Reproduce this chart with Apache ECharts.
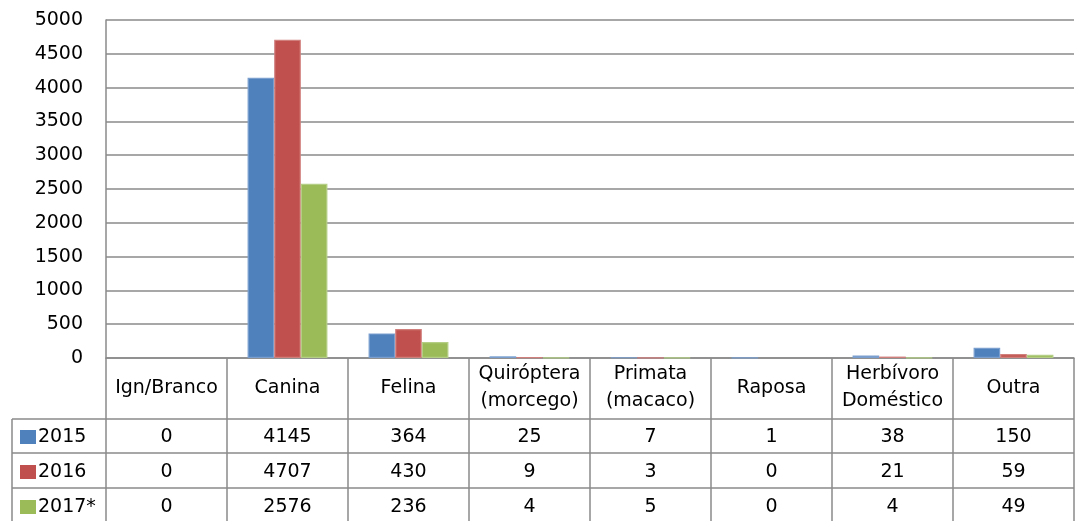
<!DOCTYPE html>
<html>
<head>
<meta charset="utf-8">
<script src="https://cdn.jsdelivr.net/npm/echarts@6/dist/echarts.min.js"></script>
<style>
  html, body { margin: 0; padding: 0; background: #fff; }
  #chart { width: 1076px; height: 521px; }
</style>
</head>
<body>
<div id="chart"></div>
<script>
// data
const categories = ["Ign/Branco", "Canina", "Felina", "Quiróptera\n(morcego)", "Primata\n(macaco)", "Raposa", "Herbívoro\nDoméstico", "Outra"];
const years = ["2015", "2016", "2017*"];
const v2015 = [0, 4145, 364, 25, 7, 1, 38, 150];
const v2016 = [0, 4707, 430, 9, 3, 0, 21, 59];
const v2017 = [0, 2576, 236, 4, 5, 0, 4, 49];
const yMax = 5000;
const yStep = 500;

const rows = [v2015, v2016, v2017];
const colors = ["#4F81BD", "#C0504D", "#9BBB59"];
const borders = ["#7A9FCF", "#D07F7D", "#B4CE85"];
const font = "DejaVu Sans";
const lineCol = "#8a8a8a";

const gridTop = 20, gridBottom = 163, gridLeft = 106, gridRight = 2;
const H = 521;
const axisY = H - gridBottom;          // 358
const rowLines = [419, 453, 488];      // table row separators
const rowCenters = [437, 472, 507];

var chart = echarts.init(document.getElementById("chart"));

// one extra x axis per table row, value shown by category index
const rowAxes = rows.map((r, k) => ({
  type: "category",
  data: categories,
  position: "bottom",
  offset: rowCenters[k] - axisY,
  axisLine: { show: false },
  axisTick: { show: false },
  splitLine: { show: false },
  axisLabel: {
    interval: 0,
    margin: 0,
    verticalAlign: "middle",
    fontFamily: font,
    fontSize: 19,
    color: "#000",
    formatter: (v, i) => String(r[i])
  }
}));

// one legend per table row
const legends = years.map((y, k) => ({
  data: [y],
  left: 20,
  top: rowCenters[k] - 10,
  padding: 0,
  itemWidth: 16,
  itemHeight: 14,
  icon: "rect",
  selectedMode: false,
  itemStyle: { borderWidth: 0 },
  textStyle: { fontFamily: font, fontSize: 19, lineHeight: 20, color: "#000", padding: [0, 0, 0, -3] }
}));

var option = {
  animation: false,
  backgroundColor: "#fff",
  grid: { left: gridLeft, right: gridRight, top: gridTop, bottom: gridBottom },
  legend: legends,
  xAxis: [{
    type: "category",
    data: categories,
    axisLine: { show: true, lineStyle: { color: lineCol, width: 1.5 } },
    axisTick: { show: false },
    axisLabel: {
      interval: 0,
      margin: 30,
      verticalAlign: "middle",
      fontFamily: font,
      fontSize: 19,
      lineHeight: 27,
      color: "#000"
    }
  }].concat(rowAxes),
  yAxis: {
    type: "value",
    min: 0,
    max: yMax,
    interval: yStep,
    axisLine: { show: true, lineStyle: { color: lineCol, width: 1.5 } },
    axisTick: { show: false },
    axisLabel: { margin: 23, fontFamily: font, fontSize: 19, color: "#000", formatter: v => String(v) },
    splitLine: { lineStyle: { color: lineCol, width: 1.5 } }
  },
  series: rows.map((r, k) => ({
    name: years[k],
    type: "bar",
    data: r.map(v => v === 0 ? { value: v, itemStyle: { borderWidth: 0 } } : v),
    barGap: "0%",
    barCategoryGap: "34%",
    itemStyle: { color: colors[k], borderColor: borders[k], borderWidth: 1.2 }
  }))
};

chart.setOption(option);

// table grid lines, placed from the category axis
const centers = categories.map((c, i) => chart.convertToPixel({ xAxisIndex: 0 }, i));
const band = centers[1] - centers[0];
const bounds = [centers[0] - band / 2].concat(centers.map(c => c + band / 2));
const lines = [];
bounds.forEach(x => lines.push([x, axisY, x, H]));
lines.push([12, rowLines[0], 12, H]);
rowLines.forEach(y => lines.push([12, y, bounds[bounds.length - 1], y]));

chart.setOption({
  graphic: lines.map(l => ({
    type: "line",
    silent: true,
    shape: { x1: l[0], y1: l[1], x2: l[2], y2: l[3] },
    style: { stroke: lineCol, lineWidth: 1.5 }
  }))
});
</script>
</body>
</html>
